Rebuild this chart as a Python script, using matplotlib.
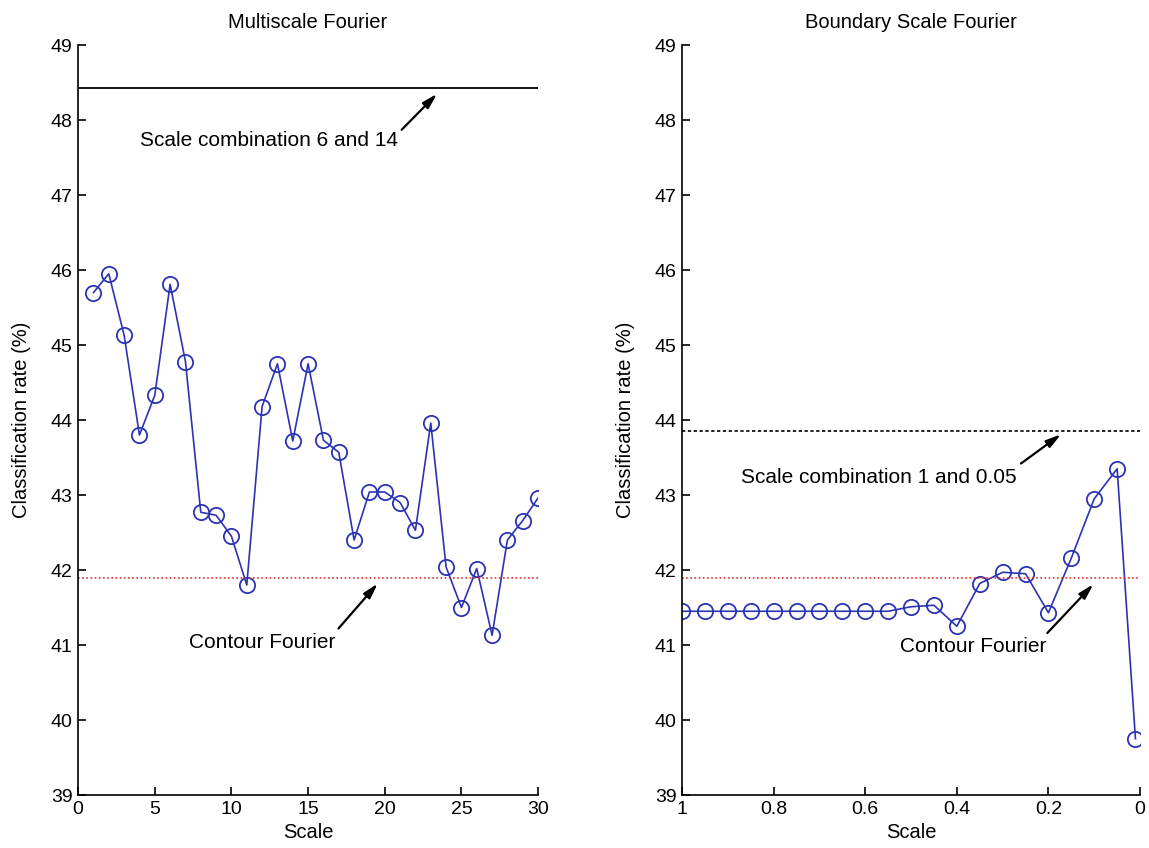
import matplotlib.pyplot as plt
import numpy as np

plt.rcParams['font.family'] = ['Liberation Sans', 'DejaVu Sans']

# left panel: multiscale fourier
scale_left = list(range(1, 31))
rate_left = [45.7, 45.95, 45.13, 43.8, 44.33, 45.81, 44.78, 42.77, 42.73, 42.45,
             41.8, 44.18, 44.75, 43.72, 44.75, 43.73, 43.57, 42.4, 43.04, 43.04,
             42.9, 42.53, 43.96, 42.04, 41.5, 42.02, 41.13, 42.4, 42.66, 42.96]
best_left = 48.43
contour = 41.9

# right panel: boundary scale fourier
scale_right = [1.0, 0.95, 0.9, 0.85, 0.8, 0.75, 0.7, 0.65, 0.6, 0.55, 0.5,
               0.45, 0.4, 0.35, 0.3, 0.25, 0.2, 0.15, 0.1, 0.05, 0.01]
rate_right = [41.45, 41.45, 41.45, 41.45, 41.45, 41.45, 41.45, 41.45, 41.45, 41.45,
              41.51, 41.53, 41.25, 41.82, 41.97, 41.95, 41.43, 42.16, 42.95, 43.35, 39.75]
best_right = 43.86

yticks = list(range(39, 50))
xticks_left = [0, 5, 10, 15, 20, 25, 30]
xticks_right = [1, 0.8, 0.6, 0.4, 0.2, 0]
xticklabels_right = ['1', '0.8', '0.6', '0.4', '0.2', '0']

blue = '#2b33b3'
red = '#e03030'
fs_tick = 14
fs_lab = 14.5
fs_ann = 15

fig = plt.figure(figsize=(11.49, 8.48), dpi=100)
ax1 = fig.add_axes([0.068, 0.0625, 0.4003, 0.8844])
ax2 = fig.add_axes([0.5936, 0.0625, 0.3986, 0.8844])

arrow = dict(arrowstyle='-|>,head_length=0.9,head_width=0.25', color='black', lw=1.6,
             shrinkA=0, shrinkB=0)

for ax in (ax1, ax2):
    ax.spines['top'].set_visible(False)
    ax.spines['right'].set_visible(False)
    ax.spines['left'].set_linewidth(1.2)
    ax.spines['bottom'].set_linewidth(1.2)
    ax.set_ylim(39, 49)
    ax.set_yticks(yticks)
    ax.tick_params(direction='in', labelsize=fs_tick, length=6, width=1.2, pad=4)
    ax.set_ylabel('Classification rate (%)', fontsize=fs_lab, labelpad=14)
    ax.set_xlabel('Scale', fontsize=fs_lab, labelpad=4)

# left
ax1.plot(scale_left, rate_left, '-o', color=blue, mfc='none', ms=11, lw=1.2, mew=1.3)
ax1.axhline(best_left, color='black', lw=1.3)
ax1.axhline(contour, color=red, lw=1.2, ls=(0, (1, 1.5)))
ax1.set_xlim(0, 30)
ax1.set_xticks(xticks_left)
ax1.set_title('Multiscale Fourier', fontsize=fs_lab, pad=12)
ax1.text(4.04, 47.73, 'Scale combination 6 and 14', fontsize=fs_ann, va='center', ha='left')
ax1.annotate('', xy=(23.41, 48.35), xytext=(21.1, 47.87), arrowprops=arrow)
ax1.text(12.0, 41.04, 'Contour Fourier', fontsize=fs_ann, va='center', ha='center')
ax1.annotate('', xy=(19.54, 41.82), xytext=(16.98, 41.22), arrowprops=arrow)

# right
ax2.plot(scale_right, rate_right, '-o', color=blue, mfc='none', ms=11, lw=1.2, mew=1.3)
ax2.axhline(best_right, color='black', lw=1.2, ls=(0, (2, 1.5)))
ax2.axhline(contour, color=red, lw=1.2, ls=(0, (1, 1.5)))
ax2.set_xlim(1, 0)
ax2.set_xticks(xticks_right)
ax2.set_xticklabels(xticklabels_right)
ax2.set_title('Boundary Scale Fourier', fontsize=fs_lab, pad=12)
ax2.text(0.57, 43.24, 'Scale combination 1 and 0.05', fontsize=fs_ann, va='center', ha='center')
ax2.annotate('', xy=(0.1725, 43.81), xytext=(0.26, 43.42), arrowprops=arrow)
ax2.text(0.364, 40.98, 'Contour Fourier', fontsize=fs_ann, va='center', ha='center')
ax2.annotate('', xy=(0.102, 41.81), xytext=(0.2024, 41.16), arrowprops=arrow)

fig.savefig('out.png', dpi=100)
